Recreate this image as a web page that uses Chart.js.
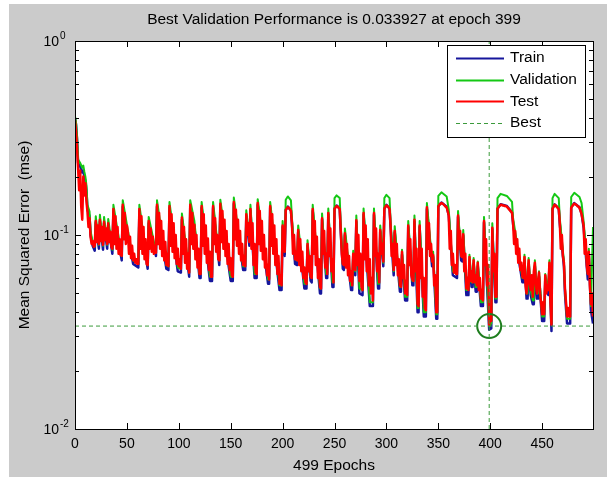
<!DOCTYPE html>
<html><head><meta charset="utf-8">
<style>html,body{margin:0;padding:0;background:#fff;}canvas{display:block;}</style>
<script src="https://cdn.jsdelivr.net/npm/chart.js@4/dist/chart.umd.min.js"></script>
</head><body>
<canvas id="c" width="607" height="479"></canvas>
<script>
// ---- data ----
const epochs = [0,1,2,3,5,7,8,9,10,11,12,14,15,17,19,20,23,24,27,28,31,32,36,37,45,46,50,51,56,61,62,70,71,78,79,88,90,91,99,102,103,110,111,115,120,121,122,130,132,133,139,140,150,152,153,162,164,165,168,169,173,175,176,186,187,188,197,199,200,202,203,205,208,209,212,214,215,221,223,224,227,228,229,236,237,238,242,243,244,248,249,250,252,255,256,258,259,260,266,267,268,270,271,274,277,278,284,287,288,292,293,294,297,298,300,303,304,307,308,313,314,315,318,320,321,325,326,327,330,331,332,336,338,339,344,345,348,349,350,353,358,360,364,368,369,372,373,374,377,379,380,382,383,384,386,387,388,391,393,394,399,401,402,405,406,407,410,416,421,422,431,432,433,435,436,437,439,441,442,443,445,446,447,450,452,453,456,457,459,460,462,466,467,471,472,474,477,478,481,486,488,490,494,495,497,499];
const trainMSE = [0.40,0.37,0.31,0.235,0.225,0.21,0.215,0.20,0.19,0.17,0.135,0.125,0.10,0.088,0.083,0.116,0.085,0.118,0.084,0.115,0.085,0.113,0.08,0.133,0.074,0.14,0.105,0.10,0.071,0.068,0.133,0.067,0.115,0.078,0.14,0.067,0.066,0.138,0.065,0.064,0.12,0.061,0.14,0.11,0.06,0.06,0.138,0.058,0.058,0.138,0.07,0.142,0.058,0.058,0.145,0.066,0.066,0.125,0.088,0.133,0.06,0.06,0.143,0.056,0.056,0.138,0.052,0.052,0.11,0.078,0.135,0.14,0.134,0.113,0.071,0.07,0.104,0.053,0.053,0.088,0.058,0.057,0.133,0.05,0.05,0.12,0.06,0.06,0.128,0.054,0.054,0.137,0.142,0.137,0.104,0.067,0.066,0.10,0.052,0.052,0.078,0.062,0.117,0.05,0.049,0.127,0.043,0.043,0.127,0.053,0.053,0.104,0.069,0.137,0.143,0.137,0.11,0.062,0.103,0.051,0.051,0.079,0.046,0.046,0.11,0.055,0.055,0.117,0.04,0.04,0.11,0.038,0.038,0.136,0.069,0.077,0.037,0.037,0.141,0.147,0.14,0.127,0.062,0.06,0.124,0.074,0.073,0.099,0.049,0.049,0.074,0.054,0.054,0.071,0.051,0.051,0.069,0.043,0.043,0.116,0.0325,0.033,0.107,0.045,0.045,0.137,0.144,0.141,0.131,0.114,0.057,0.057,0.074,0.047,0.047,0.071,0.049,0.044,0.044,0.069,0.047,0.047,0.061,0.036,0.036,0.059,0.049,0.069,0.032,0.137,0.144,0.137,0.114,0.069,0.05,0.035,0.035,0.139,0.146,0.139,0.129,0.109,0.059,0.079,0.041,0.035];
const valMSE = [0.41,0.38,0.32,0.245,0.235,0.222,0.228,0.212,0.20,0.18,0.143,0.132,0.105,0.092,0.087,0.125,0.089,0.127,0.088,0.124,0.089,0.121,0.084,0.143,0.078,0.151,0.113,0.105,0.074,0.071,0.143,0.07,0.124,0.082,0.151,0.07,0.069,0.148,0.068,0.067,0.129,0.064,0.151,0.118,0.063,0.063,0.148,0.061,0.061,0.148,0.074,0.152,0.061,0.061,0.156,0.069,0.069,0.134,0.093,0.143,0.063,0.063,0.153,0.059,0.059,0.148,0.055,0.055,0.118,0.082,0.152,0.158,0.151,0.122,0.075,0.074,0.112,0.056,0.056,0.094,0.061,0.06,0.143,0.053,0.053,0.129,0.063,0.063,0.137,0.057,0.057,0.155,0.16,0.155,0.112,0.071,0.07,0.108,0.055,0.055,0.083,0.065,0.126,0.053,0.052,0.137,0.045,0.045,0.137,0.056,0.056,0.112,0.072,0.155,0.161,0.155,0.118,0.065,0.111,0.054,0.054,0.084,0.048,0.048,0.118,0.058,0.058,0.126,0.042,0.042,0.118,0.04,0.04,0.146,0.073,0.082,0.039,0.039,0.159,0.166,0.158,0.136,0.065,0.063,0.133,0.078,0.077,0.106,0.052,0.052,0.079,0.057,0.057,0.076,0.054,0.054,0.073,0.045,0.045,0.124,0.033927,0.035,0.115,0.047,0.047,0.155,0.163,0.159,0.148,0.122,0.06,0.06,0.079,0.05,0.05,0.076,0.052,0.046,0.046,0.074,0.05,0.05,0.065,0.038,0.038,0.063,0.052,0.074,0.035,0.155,0.163,0.155,0.122,0.073,0.053,0.037,0.037,0.157,0.165,0.157,0.146,0.117,0.063,0.085,0.043,0.11];
// test error, one value per epoch 0..499
const testMSE = [
0.39,0.34,0.28,0.22,0.17,0.215,0.14,0.12,0.2,0.16,
0.185,0.15,0.132,0.11,0.122,0.098,0.09,0.093,0.087,0.088,
0.118,0.092,0.112,0.09,0.12,0.093,0.11,0.089,0.117,0.094,
0.108,0.09,0.115,0.092,0.104,0.087,0.085,0.136,0.09,0.125,
0.085,0.11,0.08,0.095,0.079,0.078,0.143,0.095,0.13,0.09,
0.112,0.103,0.08,0.098,0.076,0.088,0.074,0.08,0.072,0.075,
0.071,0.071,0.136,0.085,0.125,0.08,0.11,0.075,0.095,0.071,
0.07,0.118,0.085,0.108,0.082,0.098,0.08,0.088,0.081,0.143,
0.09,0.13,0.085,0.118,0.078,0.105,0.074,0.092,0.07,0.08,
0.069,0.141,0.088,0.128,0.082,0.115,0.076,0.1,0.071,0.085,
0.069,0.075,0.067,0.123,0.08,0.11,0.072,0.095,0.067,0.08,
0.064,0.143,0.09,0.13,0.085,0.113,0.075,0.1,0.068,0.085,
0.063,0.063,0.141,0.088,0.128,0.08,0.112,0.072,0.096,0.066,
0.082,0.061,0.061,0.141,0.09,0.122,0.082,0.1,0.075,0.074,
0.145,0.092,0.133,0.085,0.12,0.078,0.105,0.071,0.09,0.066,
0.076,0.062,0.061,0.148,0.095,0.135,0.088,0.12,0.08,0.105,
0.074,0.09,0.07,0.078,0.069,0.128,0.1,0.115,0.092,0.136,
0.085,0.115,0.07,0.09,0.064,0.063,0.146,0.09,0.133,0.083,
0.118,0.075,0.1,0.068,0.085,0.062,0.07,0.059,0.141,0.088,
0.128,0.08,0.112,0.07,0.095,0.063,0.078,0.056,0.062,0.055,
0.112,0.09,0.082,0.134,0.137,0.139,0.138,0.136,0.133,0.115,
0.08,0.1,0.075,0.082,0.074,0.106,0.07,0.095,0.065,0.082,
0.06,0.068,0.057,0.056,0.09,0.065,0.078,0.061,0.06,0.136,
0.08,0.118,0.07,0.098,0.06,0.075,0.054,0.053,0.122,0.08,
0.105,0.068,0.08,0.063,0.13,0.078,0.108,0.065,0.075,0.057,
0.136,0.139,0.141,0.14,0.138,0.136,0.106,0.08,0.071,0.07,
0.102,0.068,0.09,0.062,0.078,0.058,0.065,0.055,0.08,0.068,
0.066,0.119,0.07,0.1,0.058,0.08,0.054,0.052,0.13,0.075,
0.112,0.065,0.095,0.055,0.075,0.05,0.06,0.046,0.13,0.078,
0.108,0.065,0.08,0.057,0.106,0.08,0.09,0.073,0.136,0.14,
0.142,0.141,0.139,0.136,0.112,0.078,0.09,0.066,0.105,0.07,
0.09,0.062,0.075,0.055,0.054,0.082,0.06,0.07,0.05,0.058,
0.049,0.112,0.07,0.095,0.062,0.059,0.058,0.12,0.065,0.085,
0.044,0.043,0.112,0.06,0.085,0.048,0.06,0.042,0.041,0.139,
0.085,0.115,0.078,0.09,0.073,0.079,0.055,0.062,0.04,0.04,
0.14,0.143,0.145,0.146,0.145,0.144,0.142,0.14,0.139,0.133,
0.126,0.085,0.105,0.07,0.08,0.064,0.07,0.063,0.063,0.126,
0.085,0.105,0.078,0.077,0.101,0.065,0.08,0.053,0.06,0.052,
0.077,0.058,0.065,0.057,0.074,0.057,0.062,0.055,0.072,0.052,
0.06,0.047,0.052,0.046,0.118,0.07,0.095,0.055,0.07,0.0345,
0.04,0.036,0.109,0.065,0.08,0.048,0.048,0.136,0.139,0.141,
0.143,0.143,0.142,0.142,0.141,0.141,0.14,0.138,0.136,0.134,
0.132,0.13,0.116,0.09,0.105,0.08,0.095,0.072,0.085,0.066,
0.072,0.061,0.06,0.077,0.055,0.05,0.06,0.074,0.056,0.052,
0.062,0.048,0.065,0.072,0.055,0.05,0.058,0.064,0.05,0.045,
0.039,0.045,0.039,0.062,0.05,0.055,0.052,0.072,0.045,0.0345,
0.136,0.14,0.143,0.142,0.14,0.138,0.136,0.116,0.085,0.1,
0.078,0.072,0.053,0.045,0.038,0.042,0.038,0.038,0.138,0.141,
0.143,0.145,0.144,0.143,0.141,0.14,0.138,0.133,0.128,0.12,
0.111,0.08,0.095,0.07,0.063,0.082,0.055,0.044,0.05,0.038];
const bestEpoch = 399;
const bestPerf = 0.033927;
const xTicks = [0,50,100,150,200,250,300,350,400,450];
const yMajorTicks = [0.01,0.1,1];
const yMajorExp = ['-2','-1','0'];
const yMinorTicks = [0.02,0.03,0.04,0.05,0.06,0.07,0.08,0.09,0.2,0.3,0.4,0.5,0.6,0.7,0.8,0.9];
const titleText = 'Best Validation Performance is 0.033927 at epoch 399';
const xTitle = '499 Epochs';
const yTitle = 'Mean Squared Error  (mse)';

const pts = (xs, ys) => xs.map((x, i) => ({x, y: ys[i]}));
const FONT = '"Liberation Sans", Arial, Helvetica, sans-serif';

const lineBase = {pointRadius: 0, tension: 0, fill: false, borderJoinStyle: 'round', borderCapStyle: 'butt'};

const datasets = [
  Object.assign({label: 'Train', data: pts(epochs, trainMSE), borderColor: '#16169c', borderWidth: 2.5, order: 3, legend: true}, lineBase),
  Object.assign({label: 'Validation', data: pts(epochs, valMSE), borderColor: '#14c814', borderWidth: 2, order: 2, legend: true}, lineBase),
  Object.assign({label: 'Test', data: testMSE.map((y, i) => ({x: i, y})), borderColor: '#ff0000', borderWidth: 2.5, order: 1, legend: true}, lineBase),
  {label: 'Best', data: [{x: 0, y: bestPerf}, {x: 499, y: bestPerf}], borderColor: '#3b9a3b', borderWidth: 1, borderDash: [4, 3], pointRadius: 0, order: 0, legend: true},
  {label: 'BestV', data: [{x: bestEpoch, y: 0.01}, {x: bestEpoch, y: 1}], borderColor: '#3b9a3b', borderWidth: 1, borderDash: [4, 3], pointRadius: 0, order: 0},
  {label: 'BestPt', data: [{x: bestEpoch, y: bestPerf}], showLine: false, pointRadius: 12, pointBorderWidth: 2, pointBorderColor: '#1e7d1e', pointBackgroundColor: 'rgba(0,0,0,0)', order: 0}
];

const frame = {
  id: 'frame',
  beforeDraw(chart) {
    const {ctx, chartArea: a, width, height} = chart;
    ctx.save();
    ctx.fillStyle = '#ffffff'; ctx.fillRect(0, 0, width, height);
    ctx.fillStyle = '#cbcbcb'; ctx.fillRect(9, 4, width - 9, height - 6);
    ctx.fillStyle = '#ffffff'; ctx.fillRect(a.left, a.top, a.right - a.left, a.bottom - a.top);
    ctx.restore();
  },
  afterDraw(chart) {
    const {ctx, chartArea: a} = chart;
    const xs = chart.scales.x, ys = chart.scales.y;
    ctx.save();
    ctx.strokeStyle = '#000'; ctx.lineWidth = 1; ctx.fillStyle = '#000';
    ctx.beginPath();
    xTicks.forEach(v => {
      const px = Math.round(xs.getPixelForValue(v)) + 0.5;
      ctx.moveTo(px, a.bottom); ctx.lineTo(px, a.bottom - 6);
      ctx.moveTo(px, a.top); ctx.lineTo(px, a.top + 6);
    });
    yMajorTicks.forEach(v => {
      const py = Math.round(ys.getPixelForValue(v)) + 0.5;
      ctx.moveTo(a.left, py); ctx.lineTo(a.left + 6, py);
      ctx.moveTo(a.right, py); ctx.lineTo(a.right - 6, py);
    });
    yMinorTicks.forEach(v => {
      const py = Math.round(ys.getPixelForValue(v)) + 0.5;
      ctx.moveTo(a.left, py); ctx.lineTo(a.left + 4, py);
      ctx.moveTo(a.right, py); ctx.lineTo(a.right - 4, py);
    });
    ctx.stroke();
    ctx.strokeRect(Math.round(a.left) + 0.5, Math.round(a.top) + 0.5, Math.round(a.right - a.left), Math.round(a.bottom - a.top));
    ctx.font = '14px ' + FONT; ctx.textAlign = 'center'; ctx.textBaseline = 'middle';
    xTicks.forEach(v => ctx.fillText(String(v), xs.getPixelForValue(v), a.bottom + 15));
    yMajorTicks.forEach((v, i) => {
      const py = ys.getPixelForValue(v);
      ctx.font = '14px ' + FONT; ctx.textAlign = 'right'; ctx.textBaseline = 'middle';
      ctx.fillText('10', 59, py + 1);
      ctx.font = '10px ' + FONT; ctx.textAlign = 'left';
      ctx.fillText(yMajorExp[i], 60, py - 5);
    });
    ctx.font = '15.5px ' + FONT; ctx.textAlign = 'center'; ctx.textBaseline = 'middle';
    ctx.fillText(titleText, (a.left + a.right) / 2, 20);
    ctx.fillText(xTitle, (a.left + a.right) / 2, 466);
    ctx.save();
    ctx.translate(25, (a.top + a.bottom) / 2); ctx.rotate(-Math.PI / 2);
    ctx.fillText(yTitle, 0, 0);
    ctx.restore();
    const lx = a.right - 8 - 138, ly = a.top + 4, lw = 138, lh = 92;
    ctx.fillStyle = '#fff'; ctx.fillRect(lx, ly, lw, lh);
    ctx.strokeStyle = '#000'; ctx.strokeRect(Math.round(lx) + 0.5, Math.round(ly) + 0.5, lw, lh);
    const items = chart.data.datasets.filter(d => d.legend);
    ctx.font = '15.5px ' + FONT; ctx.textAlign = 'left'; ctx.textBaseline = 'middle';
    items.forEach((d, i) => {
      const yy = ly + 13 + i * 21.7;
      ctx.beginPath();
      ctx.strokeStyle = d.borderColor; ctx.lineWidth = Math.min(d.borderWidth, 2);
      ctx.setLineDash(d.borderDash || []);
      ctx.moveTo(lx + 9, Math.round(yy) + 0.5); ctx.lineTo(lx + 57, Math.round(yy) + 0.5);
      ctx.stroke();
      ctx.setLineDash([]);
      ctx.fillStyle = '#000';
      ctx.fillText(d.label, lx + 63, yy);
    });
    ctx.restore();
  }
};

new Chart(document.getElementById('c'), {
  type: 'line',
  data: {datasets},
  options: {
    responsive: false, animation: false, devicePixelRatio: 1,
    layout: {padding: {left: 75, top: 41, right: 10, bottom: 50}},
    plugins: {legend: {display: false}, tooltip: {enabled: false}, title: {display: false}},
    scales: {
      x: {type: 'linear', min: 0, max: 499, display: false},
      y: {type: 'logarithmic', min: 0.01, max: 1, display: false}
    }
  },
  plugins: [frame]
});
</script>
</body></html>
